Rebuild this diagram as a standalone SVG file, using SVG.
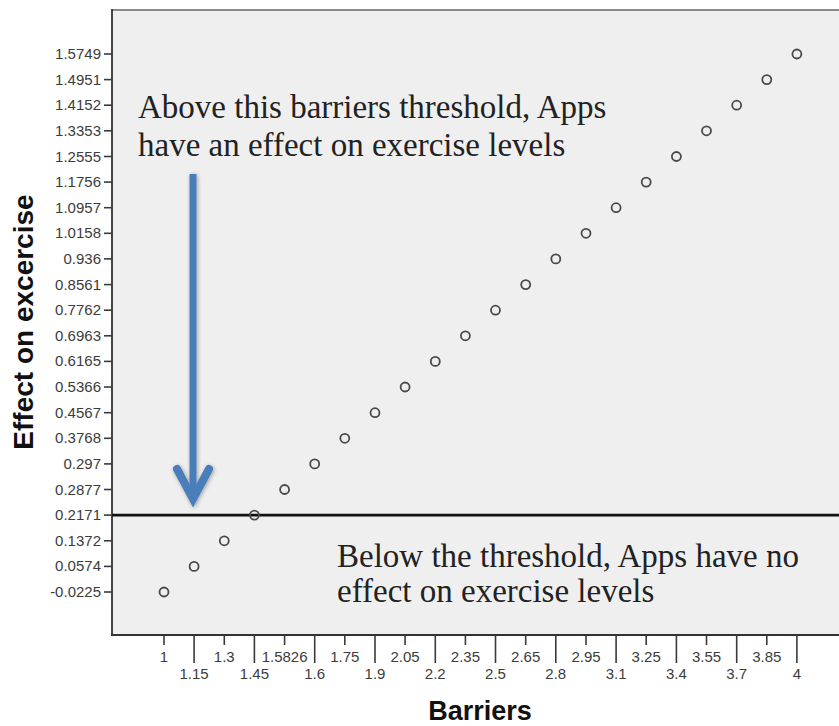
<svg xmlns="http://www.w3.org/2000/svg" width="839" height="726" viewBox="0 0 839 726">
  <style>
    .tick { stroke: #3a3a3a; stroke-width: 1.6; }
    .ylab { font-family: "Liberation Sans", Arial, sans-serif; font-size: 15px; fill: #3c3c3c; text-anchor: end; }
    .xlab { font-family: "Liberation Sans", Arial, sans-serif; font-size: 15px; fill: #3c3c3c; text-anchor: middle; }
    .title { font-family: "Liberation Sans", Arial, sans-serif; font-weight: bold; fill: #111; }
    .note { font-family: "Liberation Serif", "Times New Roman", serif; font-size: 33px; fill: #222; }
    .pt { fill: none; stroke: #4a4a4a; stroke-width: 1.8; }
    .arrow { fill: none; stroke: #4a7ebb; }
  </style>
  <defs>
    <filter id="soft" x="-50%" y="-10%" width="200%" height="120%">
      <feGaussianBlur in="SourceAlpha" stdDeviation="2.2"/>
      <feOffset dx="1" dy="1" result="b"/>
      <feComponentTransfer><feFuncA type="linear" slope="0.35"/></feComponentTransfer>
      <feMerge><feMergeNode/><feMergeNode in="SourceGraphic"/></feMerge>
    </filter>
  </defs>

  <rect width="839" height="726" fill="#ffffff"/>

  <!-- plot area -->
  <g id="plot-frame">
    <rect x="112" y="10" width="727" height="625" fill="#efefef"/>
    <line x1="112" y1="10" x2="839" y2="10" stroke="#8a8a8a" stroke-width="2"/>
    <line x1="112" y1="9" x2="112" y2="636" stroke="#333" stroke-width="1.8"/>
    <line x1="111" y1="635" x2="839" y2="635" stroke="#333" stroke-width="2"/>
  </g>

  <!-- y axis ticks and labels -->
  <g id="y-axis">
    <g>
      <line class="tick" x1="104" y1="592" x2="112" y2="592"/>
      <line class="tick" x1="104" y1="566.4" x2="112" y2="566.4"/>
      <line class="tick" x1="104" y1="540.8" x2="112" y2="540.8"/>
      <line class="tick" x1="104" y1="515.1" x2="112" y2="515.1"/>
      <line class="tick" x1="104" y1="489.5" x2="112" y2="489.5"/>
      <line class="tick" x1="104" y1="463.9" x2="112" y2="463.9"/>
      <line class="tick" x1="104" y1="438.3" x2="112" y2="438.3"/>
      <line class="tick" x1="104" y1="412.7" x2="112" y2="412.7"/>
      <line class="tick" x1="104" y1="387" x2="112" y2="387"/>
      <line class="tick" x1="104" y1="361.4" x2="112" y2="361.4"/>
      <line class="tick" x1="104" y1="335.8" x2="112" y2="335.8"/>
      <line class="tick" x1="104" y1="310.2" x2="112" y2="310.2"/>
      <line class="tick" x1="104" y1="284.6" x2="112" y2="284.6"/>
      <line class="tick" x1="104" y1="258.9" x2="112" y2="258.9"/>
      <line class="tick" x1="104" y1="233.3" x2="112" y2="233.3"/>
      <line class="tick" x1="104" y1="207.7" x2="112" y2="207.7"/>
      <line class="tick" x1="104" y1="182.1" x2="112" y2="182.1"/>
      <line class="tick" x1="104" y1="156.5" x2="112" y2="156.5"/>
      <line class="tick" x1="104" y1="130.8" x2="112" y2="130.8"/>
      <line class="tick" x1="104" y1="105.2" x2="112" y2="105.2"/>
      <line class="tick" x1="104" y1="79.6" x2="112" y2="79.6"/>
      <line class="tick" x1="104" y1="54" x2="112" y2="54"/>
    </g>
    <g>
      <text class="ylab" x="101" y="597">-0.0225</text>
      <text class="ylab" x="101" y="571.4">0.0574</text>
      <text class="ylab" x="101" y="545.8">0.1372</text>
      <text class="ylab" x="101" y="520.1">0.2171</text>
      <text class="ylab" x="101" y="494.5">0.2877</text>
      <text class="ylab" x="101" y="468.9">0.297</text>
      <text class="ylab" x="101" y="443.3">0.3768</text>
      <text class="ylab" x="101" y="417.7">0.4567</text>
      <text class="ylab" x="101" y="392">0.5366</text>
      <text class="ylab" x="101" y="366.4">0.6165</text>
      <text class="ylab" x="101" y="340.8">0.6963</text>
      <text class="ylab" x="101" y="315.2">0.7762</text>
      <text class="ylab" x="101" y="289.6">0.8561</text>
      <text class="ylab" x="101" y="263.9">0.936</text>
      <text class="ylab" x="101" y="238.3">1.0158</text>
      <text class="ylab" x="101" y="212.7">1.0957</text>
      <text class="ylab" x="101" y="187.1">1.1756</text>
      <text class="ylab" x="101" y="161.5">1.2555</text>
      <text class="ylab" x="101" y="135.8">1.3353</text>
      <text class="ylab" x="101" y="110.2">1.4152</text>
      <text class="ylab" x="101" y="84.6">1.4951</text>
      <text class="ylab" x="101" y="59">1.5749</text>
    </g>
    <text class="title" font-size="28" transform="translate(33 322) rotate(-90)" text-anchor="middle">Effect on excercise</text>
  </g>

  <!-- x axis ticks and labels: even ticks short (upper row), odd ticks long (lower row) -->
  <g id="x-axis">
    <g>
      <line class="tick" x1="164" y1="635" x2="164" y2="645"/>
      <line class="tick" x1="194.1" y1="635" x2="194.1" y2="663"/>
      <line class="tick" x1="224.3" y1="635" x2="224.3" y2="645"/>
      <line class="tick" x1="254.4" y1="635" x2="254.4" y2="663"/>
      <line class="tick" x1="284.6" y1="635" x2="284.6" y2="645"/>
      <line class="tick" x1="314.7" y1="635" x2="314.7" y2="663"/>
      <line class="tick" x1="344.8" y1="635" x2="344.8" y2="645"/>
      <line class="tick" x1="375" y1="635" x2="375" y2="663"/>
      <line class="tick" x1="405.1" y1="635" x2="405.1" y2="645"/>
      <line class="tick" x1="435.3" y1="635" x2="435.3" y2="663"/>
      <line class="tick" x1="465.4" y1="635" x2="465.4" y2="645"/>
      <line class="tick" x1="495.5" y1="635" x2="495.5" y2="663"/>
      <line class="tick" x1="525.7" y1="635" x2="525.7" y2="645"/>
      <line class="tick" x1="555.8" y1="635" x2="555.8" y2="663"/>
      <line class="tick" x1="586" y1="635" x2="586" y2="645"/>
      <line class="tick" x1="616.1" y1="635" x2="616.1" y2="663"/>
      <line class="tick" x1="646.2" y1="635" x2="646.2" y2="645"/>
      <line class="tick" x1="676.4" y1="635" x2="676.4" y2="663"/>
      <line class="tick" x1="706.5" y1="635" x2="706.5" y2="645"/>
      <line class="tick" x1="736.7" y1="635" x2="736.7" y2="663"/>
      <line class="tick" x1="766.8" y1="635" x2="766.8" y2="645"/>
      <line class="tick" x1="796.9" y1="635" x2="796.9" y2="663"/>
    </g>
    <g>
      <text class="xlab" x="164" y="662">1</text>
      <text class="xlab" x="194.1" y="679">1.15</text>
      <text class="xlab" x="224.3" y="662">1.3</text>
      <text class="xlab" x="254.4" y="679">1.45</text>
      <text class="xlab" x="284.6" y="662">1.5826</text>
      <text class="xlab" x="314.7" y="679">1.6</text>
      <text class="xlab" x="344.8" y="662">1.75</text>
      <text class="xlab" x="375" y="679">1.9</text>
      <text class="xlab" x="405.1" y="662">2.05</text>
      <text class="xlab" x="435.3" y="679">2.2</text>
      <text class="xlab" x="465.4" y="662">2.35</text>
      <text class="xlab" x="495.5" y="679">2.5</text>
      <text class="xlab" x="525.7" y="662">2.65</text>
      <text class="xlab" x="555.8" y="679">2.8</text>
      <text class="xlab" x="586" y="662">2.95</text>
      <text class="xlab" x="616.1" y="679">3.1</text>
      <text class="xlab" x="646.2" y="662">3.25</text>
      <text class="xlab" x="676.4" y="679">3.4</text>
      <text class="xlab" x="706.5" y="662">3.55</text>
      <text class="xlab" x="736.7" y="679">3.7</text>
      <text class="xlab" x="766.8" y="662">3.85</text>
      <text class="xlab" x="796.9" y="679">4</text>
    </g>
    <text class="title" font-size="27" x="480" y="720" text-anchor="middle">Barriers</text>
  </g>

  <!-- threshold line at 0.2171 -->
  <g id="threshold">
    <line x1="112" y1="515.1" x2="839" y2="515.1" stroke="#111" stroke-width="2.6"/>
  </g>

  <!-- data points -->
  <g id="points">
    <circle class="pt" cx="164" cy="592" r="4.5"/>
    <circle class="pt" cx="194.1" cy="566.4" r="4.5"/>
    <circle class="pt" cx="224.3" cy="540.8" r="4.5"/>
    <circle class="pt" cx="254.4" cy="515.1" r="4.5"/>
    <circle class="pt" cx="284.6" cy="489.5" r="4.5"/>
    <circle class="pt" cx="314.7" cy="463.9" r="4.5"/>
    <circle class="pt" cx="344.8" cy="438.3" r="4.5"/>
    <circle class="pt" cx="375" cy="412.7" r="4.5"/>
    <circle class="pt" cx="405.1" cy="387" r="4.5"/>
    <circle class="pt" cx="435.3" cy="361.4" r="4.5"/>
    <circle class="pt" cx="465.4" cy="335.8" r="4.5"/>
    <circle class="pt" cx="495.5" cy="310.2" r="4.5"/>
    <circle class="pt" cx="525.7" cy="284.6" r="4.5"/>
    <circle class="pt" cx="555.8" cy="258.9" r="4.5"/>
    <circle class="pt" cx="586" cy="233.3" r="4.5"/>
    <circle class="pt" cx="616.1" cy="207.7" r="4.5"/>
    <circle class="pt" cx="646.2" cy="182.1" r="4.5"/>
    <circle class="pt" cx="676.4" cy="156.5" r="4.5"/>
    <circle class="pt" cx="706.5" cy="130.8" r="4.5"/>
    <circle class="pt" cx="736.7" cy="105.2" r="4.5"/>
    <circle class="pt" cx="766.8" cy="79.6" r="4.5"/>
    <circle class="pt" cx="796.9" cy="54" r="4.5"/>
  </g>

  <!-- callout arrow pointing down to the threshold -->
  <g id="callout-arrow" filter="url(#soft)">
    <line class="arrow" x1="193" y1="174" x2="193" y2="496" stroke-width="7"/>
    <polyline class="arrow" points="177,469 193,499 209,469" stroke-width="8" stroke-linecap="round" stroke-linejoin="miter"/>
  </g>

  <!-- annotations -->
  <g id="note-above">
    <text class="note" x="138" y="118">Above this barriers threshold, Apps</text>
    <text class="note" x="138" y="156">have an effect on exercise levels</text>
  </g>
  <g id="note-below">
    <text class="note" x="337" y="567">Below the threshold, Apps have no</text>
    <text class="note" x="337" y="602">effect on exercise levels</text>
  </g>
</svg>
